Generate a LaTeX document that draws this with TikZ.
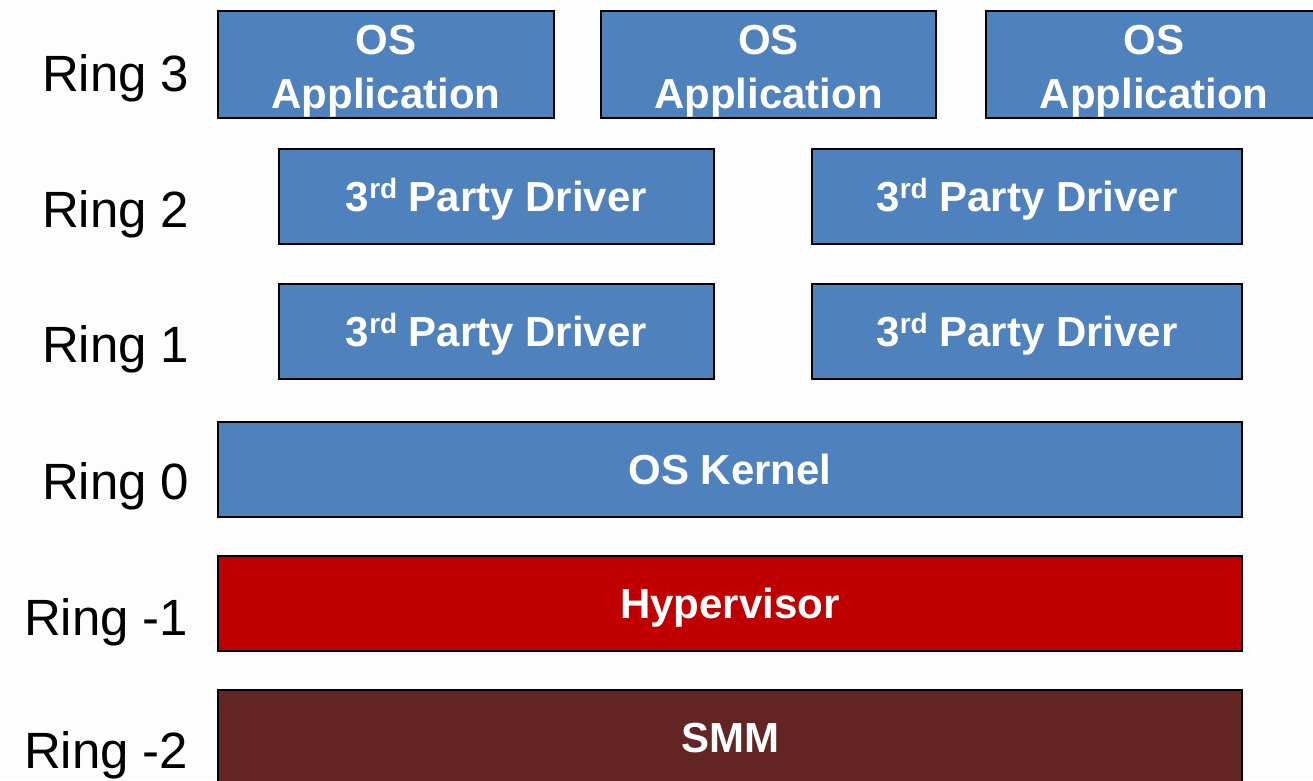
\documentclass[tikz,border=0pt]{standalone}
\usepackage{fontspec}
\setmainfont{Liberation Sans}
\definecolor{bgc}{HTML}{FDFDFD}
\definecolor{ringblue}{HTML}{4F81BD}
\definecolor{ringred}{HTML}{C00000}
\definecolor{ringbrown}{HTML}{632523}
\newcommand{\ordrd}{\raisebox{13pt}{\fontsize{28}{28}\selectfont rd}}
\begin{document}
\begin{tikzpicture}[x=1pt,y=-1pt,
  layer/.style={draw=black, line width=2pt, inner sep=0pt, outer sep=0pt,
    text=white, font=\fontsize{42}{54}\selectfont\bfseries,
    text height=30pt, text depth=0pt, align=center},
  bluelayer/.style={layer, fill=ringblue},
  twoline/.style={text height=87pt, text depth=0pt},
  ringlabel/.style={anchor=base west, inner sep=0pt, outer sep=0pt,
    font=\fontsize{51}{60}\selectfont, text=black}]
\useasboundingbox (0,0) rectangle (1313,780);
\clip (0,0) rectangle (1313,780);
\fill[bgc] (0,0) rectangle (1313,780);

% Ring labels
\node[ringlabel] (l3) at (42,91) {Ring 3};
\node[ringlabel] (l2) at (42,227) {Ring 2};
\node[ringlabel] (l1) at (42,362) {Ring 1};
\node[ringlabel] (l0) at (42,499) {Ring 0};
\node[ringlabel] (lm1) at (24,635) {Ring -1};
\node[ringlabel] (lm2) at (24,768) {Ring -2};

% Ring 3
\node[bluelayer, twoline, minimum width=336pt, minimum height=107pt] (app1) at (386,64.5) {OS\\Application};
\node[bluelayer, twoline, minimum width=335pt, minimum height=107pt] (app2) at (768.5,64.5) {OS\\Application};
\node[bluelayer, twoline, minimum width=336pt, minimum height=107pt] (app3) at (1154,64.5) {OS\\Application};

% Ring 2
\node[bluelayer, minimum width=435pt, minimum height=95pt] (d2a) at (496.5,196.5) {3\ordrd{} Party Driver};
\node[bluelayer, minimum width=430pt, minimum height=95pt] (d2b) at (1027,196.5) {3\ordrd{} Party Driver};

% Ring 1
\node[bluelayer, minimum width=435pt, minimum height=95pt] (d1a) at (496.5,331.5) {3\ordrd{} Party Driver};
\node[bluelayer, minimum width=430pt, minimum height=95pt] (d1b) at (1027,331.5) {3\ordrd{} Party Driver};

% Ring 0
\node[bluelayer, minimum width=1024pt, minimum height=95pt] (kernel) at (730,469.5) {OS Kernel};

% Ring -1
\node[layer, fill=ringred, minimum width=1024pt, minimum height=95pt] (hyp) at (730,603.5) {Hypervisor};

% Ring -2
\node[layer, fill=ringbrown, minimum width=1024pt, minimum height=95pt] (smm) at (730,737.5) {SMM};
\end{tikzpicture}
\end{document}
